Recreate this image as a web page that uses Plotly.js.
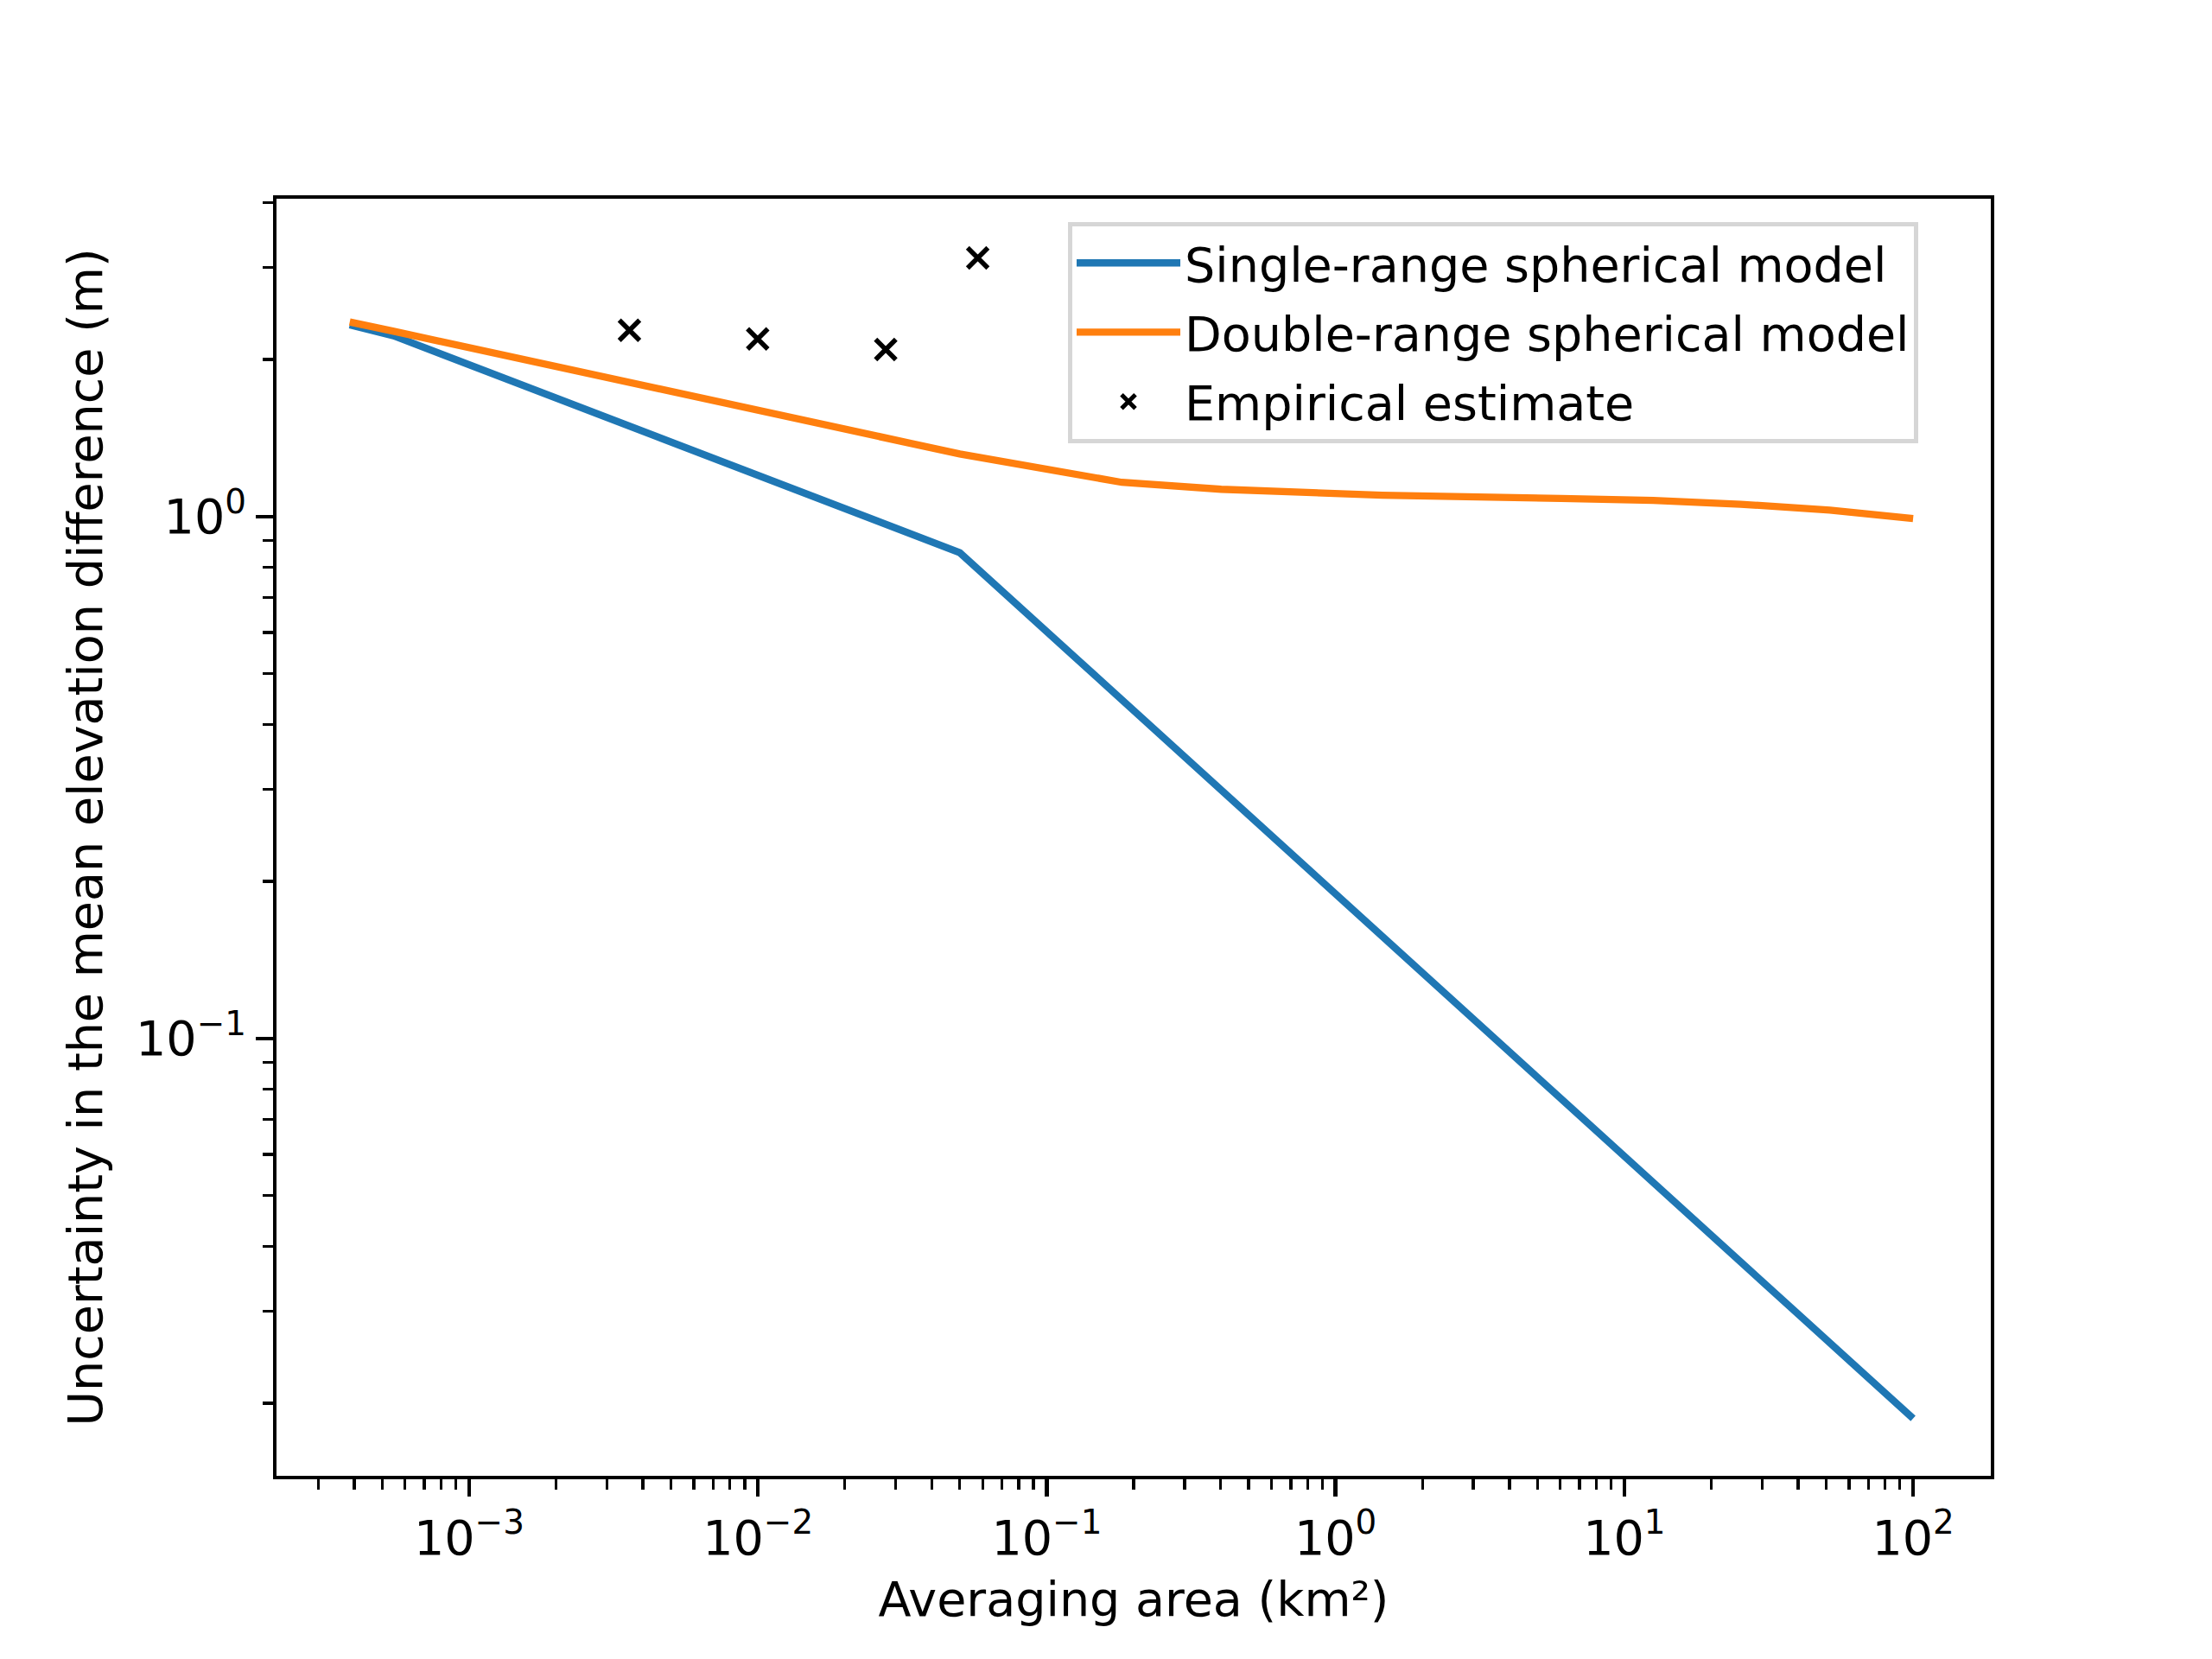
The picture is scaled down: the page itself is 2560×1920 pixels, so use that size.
<!DOCTYPE html>
<html>
<head>
<meta charset="utf-8">
<script src="https://cdn.plot.ly/plotly-3.0.1.min.js"></script>
<style>html,body{margin:0;padding:0;background:#fff;}</style>
</head>
<body>
<div id="chart" style="width:2560px;height:1920px;"></div>
<script>
// ---- data ----
const singleArea = [0.000386, 0.000548, 0.05, 100];
const singleUnc  = [2.33, 2.22, 0.853, 0.0187];

const doubleArea = [0.000386, 0.000548, 0.05, 0.182, 0.402, 1.45, 6.04, 12.6, 25.3, 51.5, 100];
const doubleUnc  = [2.36, 2.265, 1.318, 1.163, 1.128, 1.099, 1.083, 1.074, 1.056, 1.029, 0.991];

const empArea = [0.00359, 0.00998, 0.0277, 0.0577];
const empUnc  = [2.275, 2.19, 2.09, 3.13];

const xTickVals = [1e-3, 1e-2, 1e-1, 1e0, 1e1, 1e2];
const xTickText = ['10<sup>\u22123</sup>', '10<sup>\u22122</sup>', '10<sup>\u22121</sup>', '10<sup>0</sup>', '10<sup>1</sup>', '10<sup>2</sup>'];
const yTickVals = [1e-1, 1e0];
const yTickText = ['10<sup>\u22121</sup>', '10<sup>0</sup>'];

const seriesNames = ['Single-range spherical model', 'Double-range spherical model', 'Empirical estimate'];
const xTitle = 'Averaging area (km\u00b2)';
const yTitle = 'Uncertainty in the mean elevation difference (m)';

// minor tick positions (2..9 x each decade)
function minorTicks(lo, hi) {
  const out = [];
  for (let e = lo; e <= hi; e++) for (let m = 2; m <= 9; m++) out.push(m * Math.pow(10, e));
  return out;
}

const PX = 400 / 72; // matplotlib points -> px at dpi 400
const FONT = 'DejaVu Sans, sans-serif';
const fs = 10 * PX;

const traces = [
  {x: singleArea, y: singleUnc, type: 'scatter', mode: 'lines', name: seriesNames[0],
   line: {color: '#1f77b4', width: 1.5 * PX}, legendgroup: 'a'},
  {x: doubleArea, y: doubleUnc, type: 'scatter', mode: 'lines', name: seriesNames[1],
   line: {color: '#ff7f0e', width: 1.5 * PX}, legendgroup: 'b'},
  {x: empArea, y: empUnc, type: 'scatter', mode: 'markers', name: seriesNames[2],
   marker: {symbol: 'x-thin', size: 23.5, color: '#000', line: {color: '#000', width: 1.0 * PX}}, legendgroup: 'c'}
];

const axisCommon = {
  type: 'log', showline: true, linecolor: '#000', linewidth: 0.8 * PX, mirror: true,
  ticks: 'outside', ticklen: 3.5 * PX, tickwidth: 0.8 * PX, tickcolor: '#000',
  showgrid: false, zeroline: false, tickmode: 'array',
  tickfont: {family: FONT, size: fs, color: '#000'}
};

const layout = {
  width: 2560, height: 1920,
  margin: {l: 320, r: 256, t: 230, b: 212, pad: 0},
  paper_bgcolor: '#fff', plot_bgcolor: '#fff',
  font: {family: FONT, size: fs, color: '#000'},
  showlegend: true,
  xaxis: Object.assign({}, axisCommon, {
    range: [-3.667, 2.269], tickvals: xTickVals, ticktext: xTickText,
    minor: {tickmode: 'array', tickvals: minorTicks(-4, 2), ticks: 'outside', ticklen: 2 * PX, tickwidth: 0.6 * PX, tickcolor: '#000', showgrid: false},
    title: {text: xTitle, font: {family: FONT, size: fs, color: '#000'}, standoff: 22}
  }),
  yaxis: Object.assign({}, axisCommon, {
    range: [-1.838, 0.609], tickvals: yTickVals, ticktext: yTickText,
    minor: {tickmode: 'array', tickvals: minorTicks(-2, 0), ticks: 'outside', ticklen: 2 * PX, tickwidth: 0.6 * PX, tickcolor: '#000', showgrid: false},
    title: {text: yTitle, font: {family: FONT, size: fs, color: '#000'}, standoff: 22}
  }),
  legend: {
    x: 0.4617, y: 0.982, xanchor: 'left', yanchor: 'top',
    bgcolor: 'rgba(255,255,255,0.8)', bordercolor: '#d6d6d6', borderwidth: 5,
    font: {family: FONT, size: fs, color: '#000'},
    tracegroupgap: 5, itemwidth: 120, itemsizing: 'trace'
  }
};

Plotly.newPlot('chart', traces, layout, {staticPlot: true, displayModeBar: false});
</script>
</body>
</html>
